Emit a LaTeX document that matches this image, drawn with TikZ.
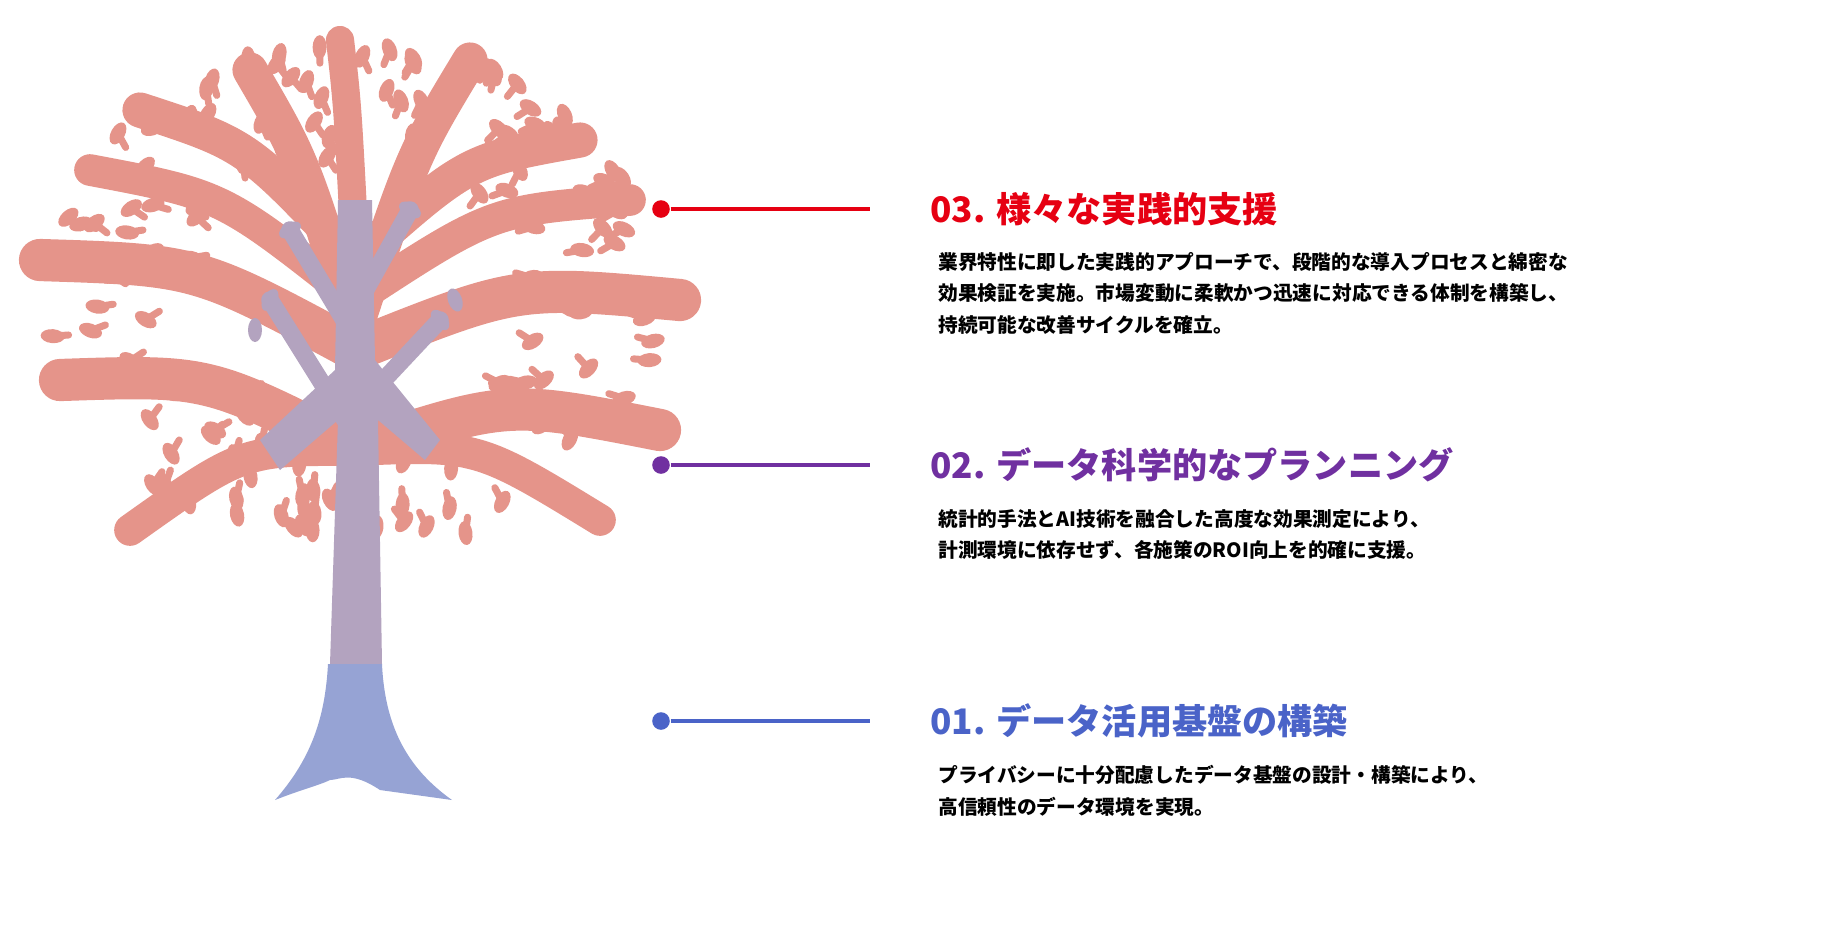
\documentclass[tikz,border=0pt]{standalone}
\usepackage{fontspec}
\setmainfont{Noto Sans CJK JP}
\usetikzlibrary{positioning,calc}
\definecolor{leafpink}{HTML}{E5948A}
\definecolor{barkpurple}{HTML}{B3A3BF}
\definecolor{rootblue}{HTML}{96A3D4}
\definecolor{redhead}{HTML}{E60012}
\definecolor{purplehead}{HTML}{7030A0}
\definecolor{bluehead}{HTML}{4A63C8}
\tikzset{
  branch/.style={draw=leafpink, line cap=round},
  inner/.style={draw=barkpurple, line cap=round},
  leaf/.style={fill=leafpink},
  dot/.style={circle, inner sep=0pt, minimum size=5pt},
  title/.style={anchor=west, font=\fontsize{10}{12}\selectfont\bfseries},
  body/.style={anchor=north west, align=left, font=\fontsize{5.6}{8.9}\selectfont\bfseries}
}
\begin{document}
\begin{tikzpicture}[x=0.01cm, y=-0.01cm]
  \useasboundingbox (0,0) rectangle (1834,938);
  % outer branches
  \foreach \sx/\sy/\ex/\ey/\w in {355/450/60/380/12, 355/450/130/530/9, 355/450/660/430/12, 355/450/600/520/9,
      355/350/40/260/12, 355/350/680/300/12, 355/330/250/70/10, 355/330/470/60/10,
      355/260/140/110/10, 355/260/580/140/10, 355/250/340/40/8, 355/300/90/170/9, 355/300/630/200/9}
    \draw[branch, line width=\w] (\sx,\sy) .. controls ($(\sx,\sy)!0.5!(\ex,\ey)+(0,-40)$) .. (\ex,\ey);
  % leaves
  \pgfmathsetseed{7}
  \foreach \i in {1,...,150}{
    \pgfmathsetmacro{\ang}{rnd*360}
    \pgfmathsetmacro{\rad}{0.45+0.55*sqrt(rnd)}
    \pgfmathsetmacro{\lx}{355+310*\rad*cos(\ang)}
    \pgfmathsetmacro{\ly}{295-255*\rad*sin(\ang)}
    \pgfmathsetmacro{\rot}{\ang+rnd*60-30}
    \draw[branch, line width=2] (\lx,\ly) -- ++({-\rot}:-16);
    \fill[leaf, rotate around={-\rot+90:(\lx,\ly)}] (\lx,\ly) ellipse [x radius=7, y radius=12];
  }
  % inner branches
  \foreach \sx/\sy/\ex/\ey in {345/420/270/300, 365/400/440/320, 350/330/290/230, 360/300/410/210}
    \draw[inner, line width=5] (\sx,\sy) -- (\ex,\ey);
  \foreach \lx/\ly/\r in {270/300/30, 440/320/140, 290/230/60, 410/210/120, 255/330/0, 455/300/160}
    \fill[barkpurple, rotate around={-\r:(\lx,\ly)}] (\lx,\ly) ellipse [x radius=7, y radius=12];
  % trunk and roots
  \fill[barkpurple] (330,664) -- (338,420) -- (280,470) -- (260,440) -- (335,370) -- (338,200) -- (372,200)
    -- (375,360) -- (440,440) -- (425,460) -- (378,420) -- (382,664) -- cycle;
  \fill[rootblue] (328,664) -- (382,664) .. controls (385,730) and (410,770) .. (452,800)
    -- (380,790) .. controls (350,770) and (340,780) .. (330,780) .. controls (320,785) and (300,790) .. (275,800)
    .. controls (310,760) and (325,720) .. cycle;
  % connectors
  \foreach \n/\y/\c in {three/209/redhead, two/465/purplehead, one/721/bluehead}{
    \node[dot, fill=\c] (dot\n) at (661,\y) {};
    \coordinate (end\n) at (870,\y);
    \draw[\c, line width=1.2pt] (dot\n) -- (end\n);
  }
  % texts
  \node[title, text=redhead] (head3) at (918,209) {03. 様々な実践的支援};
  \node[body] (body3) at (926,240) {業界特性に即した実践的アプローチで、段階的な導入プロセスと綿密な\\効果検証を実施。市場変動に柔軟かつ迅速に対応できる体制を構築し、\\持続可能な改善サイクルを確立。};
  \node[title, text=purplehead] (head2) at (918,465) {02. データ科学的なプランニング};
  \node[body] (body2) at (926,497) {統計的手法とAI技術を融合した高度な効果測定により、\\計測環境に依存せず、各施策のROI向上を的確に支援。};
  \node[title, text=bluehead] (head1) at (918,721) {01. データ活用基盤の構築};
  \node[body] (body1) at (926,753) {プライバシーに十分配慮したデータ基盤の設計・構築により、\\高信頼性のデータ環境を実現。};
\end{tikzpicture}
\end{document}
